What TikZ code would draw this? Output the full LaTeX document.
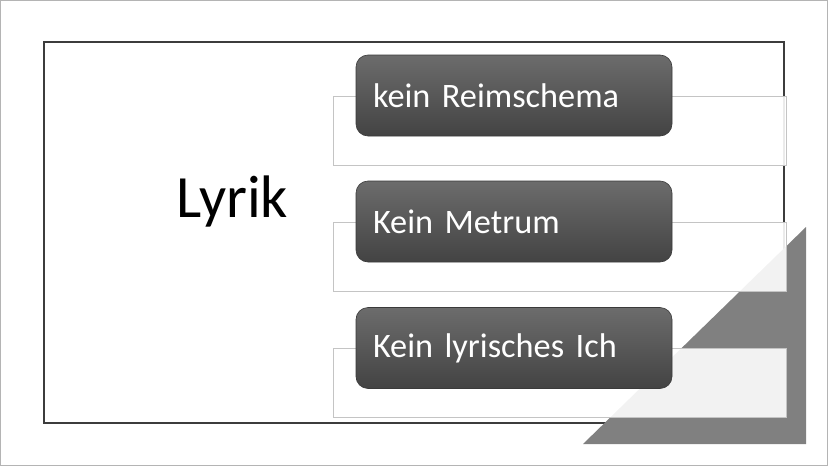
\documentclass[tikz,border=0pt]{standalone}
\usepackage{fontspec}
\setmainfont{Carlito}
\usetikzlibrary{shadings}
\definecolor{frameline}{HTML}{B4B4B4}
\definecolor{rectline}{HTML}{3C3C3C}
\definecolor{trigrey}{HTML}{808080}
\definecolor{backline}{HTML}{C4C4C4}
\definecolor{boxtop}{HTML}{6C6C6C}
\definecolor{boxbottom}{HTML}{434343}
\definecolor{boxline}{HTML}{3A3A3A}
\tikzset{
  backbox/.style={draw=backline, line width=0.9pt, fill=white, fill opacity=0.9, draw opacity=1, rectangle, minimum width=453pt, minimum height=69pt, inner sep=0pt},
  itembox/.style={draw=boxline, line width=0.6pt, rounded corners=12pt, top color=boxtop, bottom color=boxbottom, rectangle, minimum width=316pt, minimum height=81pt, text width=282pt, inner xsep=17pt, inner ysep=0pt, align=left, text=white, font=\fontsize{34.3}{40}\selectfont},
  titletext/.style={text=black, font=\fontsize{60}{70}\selectfont, inner sep=0pt}
}
\begin{document}
\begin{tikzpicture}[x=1pt,y=-1pt]
\useasboundingbox (0,0) rectangle (828,466);
\draw[frameline, line width=1pt] (0.5,0.5) rectangle (827.5,465.5);
\draw[rectline, line width=1.2pt] (44,42) rectangle (784,423);
\fill[trigrey] (583,444) -- (806,444) -- (806,227) -- cycle;
\node[backbox] (b1) at (559.5,131) {};
\node[backbox] (b2) at (559.5,257) {};
\node[backbox] (b3) at (559.5,383) {};
\node[itembox] (i1) at (514,95.5) {kein Reimschema};
\node[itembox] (i2) at (514,221.5) {Kein Metrum};
\node[itembox] (i3) at (514,348) {Kein lyrisches Ich};
\node[titletext, anchor=base west] (t) at (176,217) {Lyrik};
\end{tikzpicture}
\end{document}
